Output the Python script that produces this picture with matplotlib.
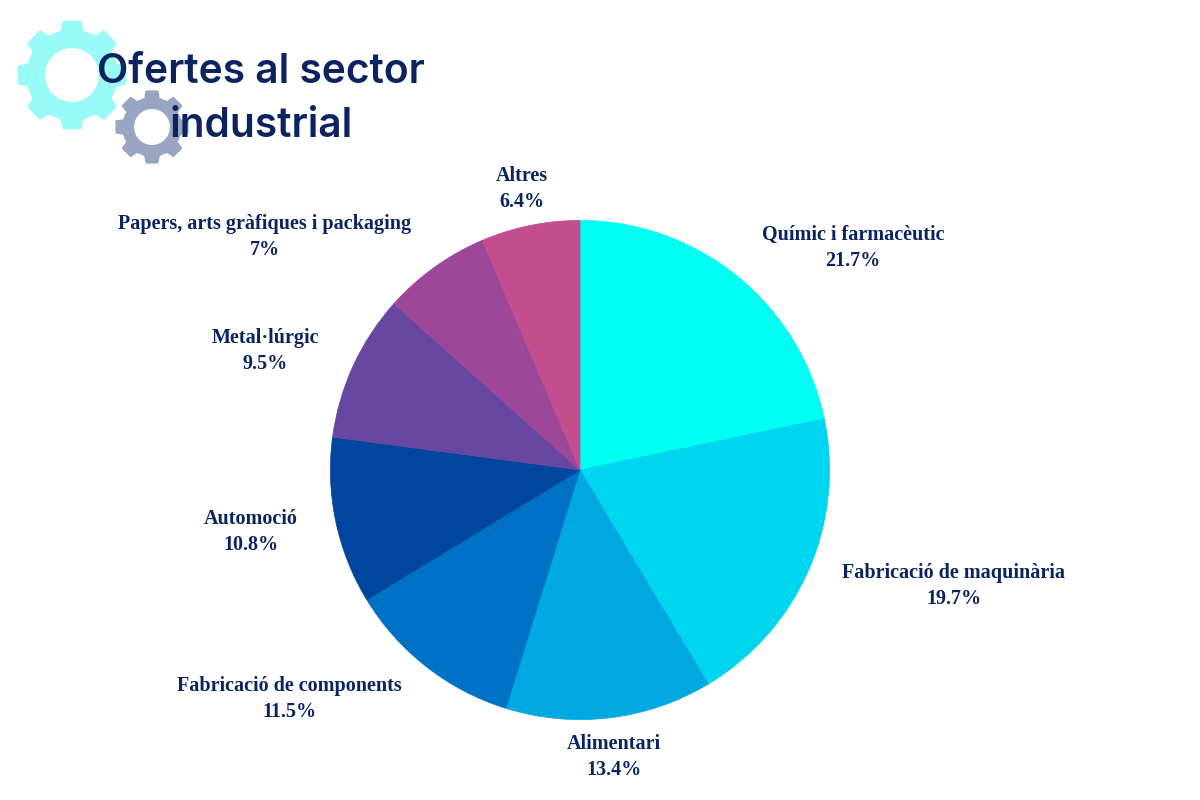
# -*- coding: utf-8 -*-
import numpy as np
import matplotlib
matplotlib.use("Agg")
import matplotlib.pyplot as plt
from matplotlib.path import Path
from matplotlib.patches import PathPatch

# dades
sectors = ["Químic i farmacèutic", "Fabricació de maquinària", "Alimentari",
           "Fabricació de components", "Automoció", "Metal·lúrgic",
           "Papers, arts gràfiques i packaging", "Altres"]
values = [21.7, 19.7, 13.4, 11.5, 10.8, 9.5, 7, 6.4]
colors = ["#00FFF3", "#00D5EF", "#00A8E1", "#0071C5", "#00459E",
          "#6747A1", "#9C4798", "#C34E8E"]

# centre de cada etiqueta, en pixels de la imatge
label_x = [853, 954, 614, 289, 251, 265, 265, 522]
label_y = [248, 586, 757, 699, 532, 351, 237, 189]

NAVY = "#0B2460"


def gear(ax, cx, cy, r_out, r_root, r_hole, color, n=8, zorder=1):
    # roda dentada amb forat, y ja invertida a pixels
    pts = []
    step = 2 * np.pi / n
    for i in range(n):
        a = i * step - np.pi / 2
        for da, r in [(-step * 0.30, r_root), (-step * 0.20, r_out),
                      (step * 0.20, r_out), (step * 0.30, r_root)]:
            pts.append((cx + r * np.cos(a + da), cy + r * np.sin(a + da)))
    pts.append(pts[0])
    # el forat va en sentit contrari
    t = np.linspace(2 * np.pi, 0, 80)
    hole = np.column_stack([cx + r_hole * np.cos(t), cy + r_hole * np.sin(t)])
    verts = np.vstack([pts, hole])
    codes = ([Path.MOVETO] + [Path.LINETO] * (len(pts) - 2) + [Path.CLOSEPOLY]
             + [Path.MOVETO] + [Path.LINETO] * (len(hole) - 2) + [Path.CLOSEPOLY])
    ax.add_patch(PathPatch(Path(verts, codes), fc=color, ec=color, lw=1.5,
                           joinstyle="round", zorder=zorder))


fig = plt.figure(figsize=(12, 8), dpi=100)
ax = fig.add_axes([0, 0, 1, 1])

# el pie gira al reves perque l'eix y esta invertit
wedges, _ = ax.pie(values, colors=colors, center=(580, 470), radius=249.6, startangle=-90,
                   counterclock=True, frame=True)
for w, c in zip(wedges, colors):
    w.set_edgecolor(c)
    w.set_linewidth(0.5)
ax.set_xlim(0, 1200)
ax.set_ylim(800, 0)
ax.set_aspect("equal")
ax.axis("off")

gear(ax, 72, 75, 54, 45, 28, "#99FBF7")
gear(ax, 152, 127, 36, 29, 19, "#9AA5C1")

for name, val, x, y in zip(sectors, values, label_x, label_y):
    ax.text(x, y, f"{name}\n{val}%", ha="center", va="center", color=NAVY,
            fontsize=14.5, fontweight="bold", family="Liberation Serif",
            linespacing=1.35, zorder=5)

ax.text(97, 72, "Ofertes al sector", ha="left", va="center", color=NAVY,
        fontsize=29.3, fontweight="semibold", family="Inter", zorder=5)
ax.text(261, 126, "industrial", ha="center", va="center", color=NAVY,
        fontsize=29.3, fontweight="semibold", family="Inter", zorder=5)

fig.savefig("out.png", dpi=100, facecolor="white")
